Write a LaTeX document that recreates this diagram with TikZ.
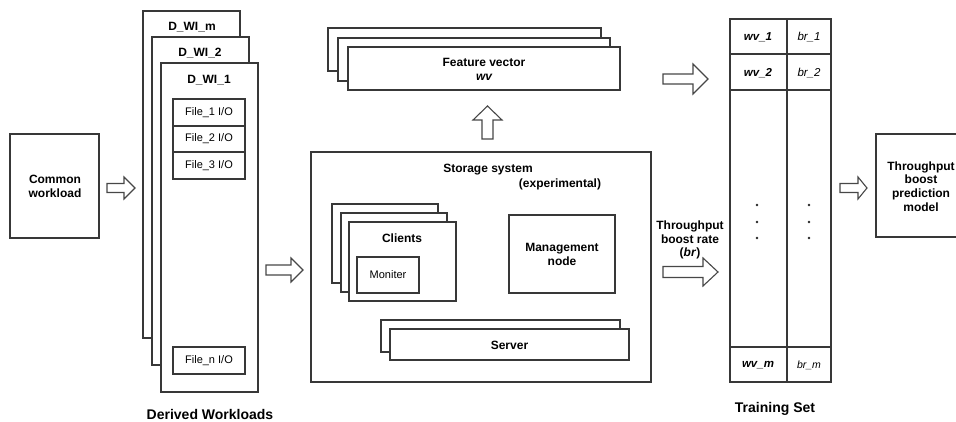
\documentclass[tikz,border=0pt]{standalone}
\usepackage{fontspec}
\setmainfont{Liberation Sans}
\begin{document}
\begin{tikzpicture}[x=1pt,y=-1pt,
  box/.style={draw=black!78, line width=1.3pt, fill=white},
  barrow/.style={draw=black!72, line width=1.1pt, fill=white, line join=miter},
  grid/.style={draw=black!78, line width=1.3pt},
  bold/.style={font=\fontsize{12}{13.8}\selectfont\bfseries, align=center, inner sep=0pt},
  plain/.style={font=\fontsize{11}{13}\selectfont, align=center, inner sep=0pt},
  big/.style={font=\fontsize{14}{16}\selectfont\bfseries, inner sep=0pt}]
\useasboundingbox (0,0) rectangle (956,421);
\clip (0,0) rectangle (956,421);

% right-pointing block arrow: tail x, tip x, centre y, shaft half, head half, head length
\newcommand\rarrow[6]{%
  \draw[barrow] (#1,{#3-#4}) -- ({#2-#6},{#3-#4}) -- ({#2-#6},{#3-#5}) -- (#2,#3)
    -- ({#2-#6},{#3+#5}) -- ({#2-#6},{#3+#4}) -- (#1,{#3+#4}) -- cycle;}
% upward block arrow: centre x, tail y, tip y, shaft half, head half, head length
\newcommand\uarrow[6]{%
  \draw[barrow] ({#1-#4},#2) -- ({#1-#4},{#3+#6}) -- ({#1-#5},{#3+#6}) -- (#1,#3)
    -- ({#1+#5},{#3+#6}) -- ({#1+#4},{#3+#6}) -- ({#1+#4},#2) -- cycle;}

% common workload
\draw[box] (10,134) rectangle (99,238);
\node[bold] (cw) at (55,186) {Common\\workload};
\rarrow{107}{135}{188}{4.5}{11}{11}

% derived workloads stack
\draw[box] (143,11) rectangle (240,338);
\node[bold] (dwm) at (192,27) {D\_WI\_m};
\draw[box] (152,37) rectangle (249,365);
\node[bold] (dw2) at (200,53) {D\_WI\_2};
\draw[box] (161,63) rectangle (258,392);
\node[bold] (dw1) at (209,80) {D\_WI\_1};
\draw[box] (173,99) rectangle (245,126);
\node[plain] (f1) at (209,112.5) {File\_1 I/O};
\draw[box] (173,126) rectangle (245,152);
\node[plain] (f2) at (209,139) {File\_2 I/O};
\draw[box] (173,152) rectangle (245,179);
\node[plain] (f3) at (209,165.5) {File\_3 I/O};
\draw[box] (173,347) rectangle (245,374);
\node[plain] (fn) at (209,360.5) {File\_n I/O};
\node[big] (dl) at (210,414) {Derived Workloads};

\rarrow{266}{303}{270}{5}{12}{12}

% storage system
\draw[box] (311,152) rectangle (651,382);
\node[bold] (ss) at (488,170) {Storage system};
\node[bold] (ex) at (560,184) {(experimental)};
\draw[box] (332,204) rectangle (438,283);
\draw[box] (341,213) rectangle (447,292);
\draw[box] (349,222) rectangle (456,301);
\node[bold] (cl) at (402,238) {Clients};
\draw[box] (357,257) rectangle (419,293);
\node[plain] (mo) at (388,275) {Moniter};
\draw[box] (509,215) rectangle (615,293);
\node[bold] (mn) at (562,254.5) {Management\\node};
\draw[box] (381,320) rectangle (620,352);
\draw[box] (390,329) rectangle (629,360);
\node[bold] (sv) at (509.5,345) {Server};

% feature vector stack
\uarrow{487.5}{139}{106}{5.5}{14.5}{14}
\draw[box] (328,28) rectangle (601,71);
\draw[box] (338,38) rectangle (610,81);
\draw[box] (348,47) rectangle (620,90);
\node[bold] (fv) at (484,62) {Feature vector};
\node[bold, font=\fontsize{12}{13.8}\selectfont\bfseries\itshape] (wv) at (484,77) {wv};

% arrows into the training set
\rarrow{663}{708}{79}{5}{15}{15}
\node[bold] (tb) at (690,240) {Throughput\\boost rate\\(\textit{br})};
\rarrow{663}{718}{272}{5.5}{14}{15}

% training set table
\draw[grid] (730,19) rectangle (831,382);
\draw[grid] (787,19) -- (787,382);
\draw[grid] (730,54) -- (831,54);
\draw[grid] (730,90) -- (831,90);
\draw[grid] (730,347) -- (831,347);
\tikzset{wvt/.style={bold, font=\fontsize{11.5}{13}\selectfont\bfseries\itshape},
         brt/.style={plain, font=\fontsize{11.5}{13}\selectfont\itshape}}
\node[wvt] (w1) at (758,37) {wv\_1};
\node[brt] (b1) at (809,37) {br\_1};
\node[wvt] (w2) at (758,73) {wv\_2};
\node[brt] (b2) at (809,73) {br\_2};
\node[wvt] (wm) at (758,365) {wv\_m};
\node[brt, font=\fontsize{10.5}{12}\selectfont\itshape] (bm) at (809,365) {br\_m};
\foreach \yy [count=\i] in {205,222,238}{
  \fill[black!85] (757,\yy) circle (1.3pt) coordinate (dl\i);
  \fill[black!85] (809,\yy) circle (1.3pt) coordinate (dr\i);
}
\node[big] (ts) at (775,409) {Training Set};

% prediction model
\rarrow{840}{867}{188}{4.5}{11}{9}
\draw[box] (876,134) rectangle (968,237);
\node[bold] (pm) at (921,186.5) {Throughput\\boost\\prediction\\model};
\end{tikzpicture}
\end{document}
